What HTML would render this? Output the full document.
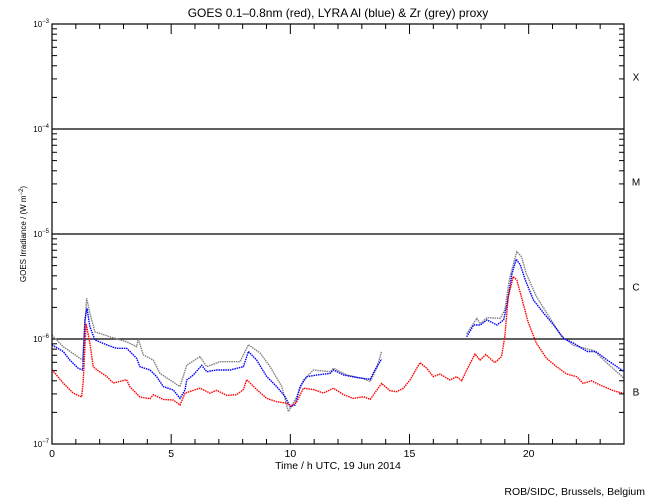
<!DOCTYPE html>
<html><head><meta charset="utf-8">
<style>
html,body{margin:0;padding:0;background:#fff;}
svg{display:block;font-family:"Liberation Sans",sans-serif;}
</style></head>
<body>
<svg id="chart" width="650" height="500" viewBox="0 0 650 500" xmlns="http://www.w3.org/2000/svg">
<text x="338" y="17" font-size="12" text-anchor="middle">GOES 0.1–0.8nm (red), LYRA Al (blue) &amp; Zr (grey) proxy</text>
<text transform="translate(26,234) rotate(-90)" font-size="8" text-anchor="middle">GOES Irradiance / (W m<tspan dy="-3" font-size="6">−2</tspan><tspan dy="3">)</tspan></text>
<text x="338" y="469" font-size="10.5" text-anchor="middle">Time / h UTC, 19 Jun 2014</text>
<text x="645" y="495" font-size="10.5" text-anchor="end">ROB/SIDC, Brussels, Belgium</text>
<g id="axes"></g>
<g id="series"></g>
<rect x="52" y="24" width="572" height="420" fill="none" stroke="#000" stroke-width="1.2"/>
</svg>
<script>
const xTicks=[0,5,10,15,20];
const yDecades=[-7,-6,-5,-4,-3];
const classLabels=['B','C','M','X'];
const redT=[0,0.47,0.89,1.24,1.31,1.43,1.59,1.73,1.87,2.29,2.57,3.13,3.27,3.69,4.11,4.25,4.67,5.09,5.37,5.58,6.21,6.63,6.91,7.33,7.75,8.03,8.17,8.59,9.01,9.43,9.85,10.06,10.27,10.55,10.97,11.39,11.81,12.23,12.65,13.07,13.35,13.83,14.18,14.46,14.74,15.02,15.44,15.72,16.0,16.28,16.7,16.98,17.19,17.4,17.75,17.96,18.2,18.58,18.86,19.0,19.14,19.35,19.5,19.7,19.97,20.16,20.33,20.75,21.17,21.59,22.01,22.29,22.64,22.99,23.55,23.97];
const redV=[5.1e-7,3.8e-7,3.05e-7,2.8e-7,3.9e-7,1.4e-6,9.1e-7,5.45e-7,5.1e-7,4.4e-7,3.8e-7,4.1e-7,3.5e-7,2.8e-7,2.7e-7,2.95e-7,2.66e-7,2.62e-7,2.35e-7,3.05e-7,3.4e-7,3.05e-7,3.25e-7,2.9e-7,2.95e-7,3.3e-7,4.1e-7,3.3e-7,2.72e-7,2.53e-7,2.44e-7,2.3e-7,2.53e-7,3.4e-7,3.3e-7,3.05e-7,3.4e-7,2.95e-7,2.72e-7,2.82e-7,2.66e-7,3.78e-7,3.22e-7,3.15e-7,3.39e-7,4.07e-7,5.95e-7,5.26e-7,4.38e-7,4.64e-7,4.07e-7,4.38e-7,4.0e-7,5.07e-7,7.2e-7,6.3e-7,7.1e-7,5.95e-7,6.8e-7,1.05e-6,2.5e-6,3.93e-6,3.65e-6,2.5e-6,1.46e-6,1.13e-6,9.1e-7,6.55e-7,5.45e-7,4.64e-7,4.38e-7,3.78e-7,4.0e-7,3.65e-7,3.22e-7,3.04e-7];
const blueT=[0,0.47,0.75,1.1,1.29,1.38,1.47,1.59,1.8,2.29,2.7,3.13,3.27,3.55,3.69,4.11,4.39,4.67,5.09,5.37,5.58,5.65,5.93,6.28,6.49,6.91,7.47,8.03,8.24,8.59,9.01,9.43,9.78,9.99,10.2,10.41,10.69,11.11,11.67,11.81,12.23,12.79,13.35,13.55,13.83,null,17.4,17.69,17.97,18.25,18.67,18.95,19.1,19.3,19.48,19.65,19.86,20.2,20.63,21.05,21.47,21.89,22.46,22.81,23.3,24];
const blueV=[8.8e-7,7.6e-7,6.3e-7,5.26e-7,5.07e-7,1.52e-6,1.96e-6,1.31e-6,9.8e-7,8.8e-7,8.15e-7,8.15e-7,7.6e-7,6.55e-7,5.45e-7,5.07e-7,4.38e-7,3.52e-7,3.27e-7,2.72e-7,3.27e-7,4.07e-7,4.54e-7,5.62e-7,4.88e-7,5.07e-7,5.07e-7,5.45e-7,7.6e-7,6.3e-7,4.38e-7,3.52e-7,2.82e-7,2.27e-7,2.35e-7,3.52e-7,4.38e-7,4.54e-7,4.7e-7,5.07e-7,4.54e-7,4.3e-7,4.12e-7,5.07e-7,6.45e-7,null,1.05e-6,1.36e-6,1.36e-6,1.52e-6,1.36e-6,1.52e-6,2.19e-6,4.2e-6,5.74e-6,5.07e-6,3.65e-6,2.35e-6,1.76e-6,1.36e-6,1.01e-6,9.1e-7,7.6e-7,7.6e-7,6.3e-7,4.9e-7];
const greyT=[0,0.47,1.17,1.29,1.45,1.59,1.8,2.43,3.13,3.55,3.62,3.83,4.25,4.53,4.95,5.37,5.65,6.21,6.49,7.05,7.89,8.24,8.73,9.15,9.64,9.92,10.27,10.55,10.97,11.67,11.81,12.37,13.07,13.35,13.62,13.83,null,17.4,17.83,17.97,18.25,18.8,19.0,19.2,19.5,19.7,19.9,20.33,20.9,21.33,21.89,22.74,23.3,24];
const greyV=[1.09e-6,8.45e-7,6.55e-7,6.3e-7,2.44e-6,1.76e-6,1.17e-6,1.05e-6,9.4e-7,8.45e-7,1.0e-6,7.05e-7,6.3e-7,4.7e-7,4.07e-7,3.52e-7,5.62e-7,6.8e-7,5.45e-7,6.08e-7,6.08e-7,8.8e-7,7.35e-7,5.45e-7,3.52e-7,2.03e-7,2.82e-7,4.07e-7,5.07e-7,4.88e-7,5.26e-7,4.54e-7,4.2e-7,3.93e-7,5.26e-7,7.6e-7,null,1.12e-6,1.57e-6,1.4e-6,1.6e-6,1.57e-6,1.89e-6,3.78e-6,6.8e-6,6.08e-6,4.2e-6,2.53e-6,1.57e-6,1.09e-6,8.7e-7,7.74e-7,5.87e-7,4.22e-7];

const NS='http://www.w3.org/2000/svg';
const X0=52,X1=624,Y0=444,Y1=24;
function xs(h){return X0+(h/24)*(X1-X0);}
function ys(v){return Y0-(Math.log10(v)+7)/4*(Y0-Y1);}
function mk(tag,attrs,parent){const e=document.createElementNS(NS,tag);for(const k in attrs)e.setAttribute(k,attrs[k]);parent.appendChild(e);return e;}
const axes=document.getElementById('axes');
for(let h=0;h<=24;h++){
  const major=xTicks.includes(h);const L=major?10:5;const x=xs(h);
  const t1=mk('line',{x1:x,y1:Y0,x2:x,y2:Y0-L,stroke:'#000'},axes);
  
  
  const t2=mk('line',{x1:x,y1:Y1,x2:x,y2:Y1+L,stroke:'#000'},axes);
  
  
}
xTicks.forEach(h=>{
  const t=mk('text',{x:xs(h),y:Y0+13,'font-size':10.5,'text-anchor':'middle'},axes);t.textContent=h;
  
  
});
for(let d=-7;d<-3;d++){
  for(let m=1;m<10;m++){
    const y=ys(m*Math.pow(10,d));const L=m===1?10:5;
    const a=mk('line',{x1:X0,y1:y,x2:X0+L,y2:y,stroke:'#000'},axes);
    
    
    const b=mk('line',{x1:X1,y1:y,x2:X1-L,y2:y,stroke:'#000'},axes);
    
    
  }
}
yDecades.forEach(d=>{
  const y=ys(Math.pow(10,d));
  const t=mk('text',{x:X0-3,y:y+3,'font-size':8,'text-anchor':'end'},axes);
  t.innerHTML='10<tspan dy="-4" font-size="6">'+'−'+(-d)+'</tspan>';
  
  
  if(d>-7&&d<-3){
    const g=mk('line',{x1:X0,y1:y,x2:X1,y2:y,stroke:'#000','stroke-width':1.2},axes);
    
    
  }
});
classLabels.forEach((c,i)=>{
  const y=ys(Math.pow(10,-7+i+0.5));
  const t=mk('text',{x:636,y:y+4,'font-size':10,'text-anchor':'middle'},axes);t.textContent=c;
  
  
});
const sg=document.getElementById('series');
function draw(T,V,color,name){
  let segs=[[]];
  T.forEach((t,i)=>{if(t===null){segs.push([]);}else segs[segs.length-1].push(xs(t).toFixed(1)+','+ys(V[i]).toFixed(1));});
  segs.forEach(s=>{
    if(s.length<2)return;
    const p=mk('polyline',{points:s.join(' '),fill:'none',stroke:color,'stroke-width':1.4,'stroke-dasharray':'1.5 0.8'},sg);
    
    
  });
}
draw(greyT,greyV,'#808080','zr-grey-series');
draw(blueT,blueV,'#0000ff','al-blue-series');
draw(redT,redV,'#ff0000','goes-red-series');
</script>
</body></html>
